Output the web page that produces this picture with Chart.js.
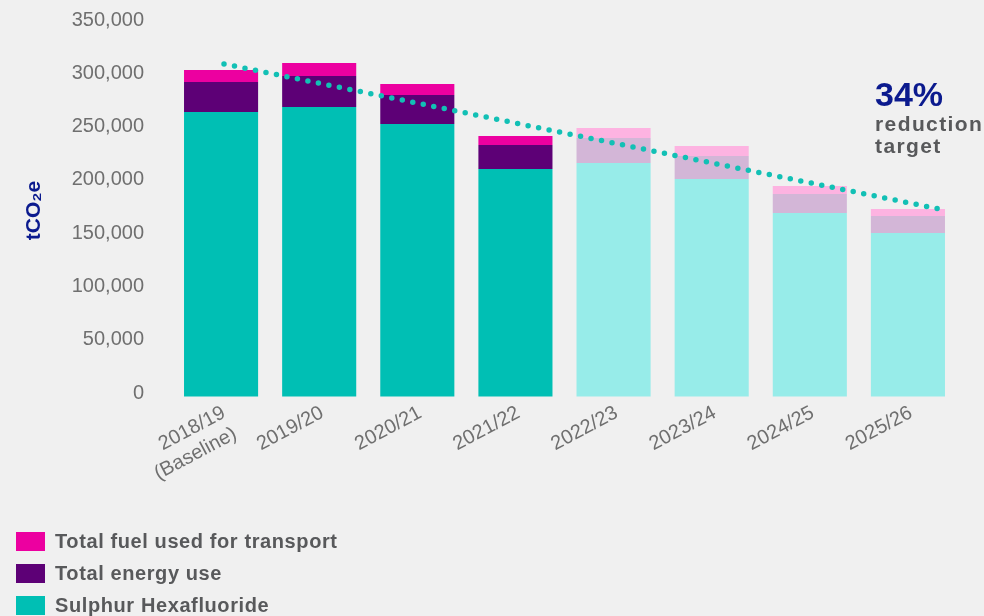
<!DOCTYPE html>
<html>
<head>
<meta charset="utf-8">
<script src="https://cdn.jsdelivr.net/npm/chart.js@4.4.1/dist/chart.umd.min.js"></script>
<style>
  html, body { margin: 0; padding: 0; background: #f0f0f0; }
  body { width: 984px; height: 616px; position: relative; overflow: hidden; }
  #wrap { position: absolute; left: 0; top: 0; width: 984px; height: 616px; }
  #legend { position: absolute; left: 16px; top: 532px; font-family: "Liberation Sans", Arial, sans-serif; }
  .item { display: flex; align-items: center; height: 19px; margin-bottom: 13px; }
  .box { width: 29px; height: 19px; margin-right: 10px; }
  .lbl { font-weight: bold; font-size: 20px; color: #58595b; letter-spacing: 0.6px; line-height: 19px; }
</style>
</head>
<body>
<div id="wrap"><canvas id="c" width="984" height="616"></canvas></div>
<div id="legend"></div>
<script>
// ---- data ----
const categories = [['2018/19', '(Baseline)'], '2019/20', '2020/21', '2021/22', '2022/23', '2023/24', '2024/25', '2025/26'];
const sulphurHexafluoride = [267400, 272100, 256200, 213900, 219600, 204600, 172700, 153900];
const totalEnergyUse = [28200, 29100, 27200, 22600, 23400, 21500, 17800, 15900];
const totalFuelTransport = [11200, 12200, 10300, 8400, 9400, 9400, 7500, 6600];
const isProjection = [false, false, false, false, true, true, true, true];
const targetLineX = [0.03, 7.32];
const targetLineY = [312500, 176400];
const yTicks = [0, 50000, 100000, 150000, 200000, 250000, 300000, 350000];

const FONT = '"Liberation Sans", Arial, sans-serif';
const colors = {
  sf6: ['#00bfb4', '#97ece9'],
  energy: ['#5d0076', '#d3b6d7'],
  fuel: ['#ec00a0', '#fdb3e1']
};
const pick = (pair) => isProjection.map(p => p ? pair[1] : pair[0]);

const annotation = {
  id: 'annotation',
  afterDraw(chart) {
    const ctx = chart.ctx;
    ctx.save();
    ctx.textAlign = 'left';
    ctx.textBaseline = 'alphabetic';
    ctx.fillStyle = '#0b1a8e';
    ctx.font = 'bold 34px ' + FONT;
    ctx.fillText('34%', 875, 106);
    ctx.fillStyle = '#58595b';
    ctx.font = 'bold 21px ' + FONT;
    try { ctx.letterSpacing = '1.4px'; } catch (e) {}
    ctx.fillText('reduction', 875, 131);
    ctx.fillText('target', 875, 153);
    ctx.restore();
  }
};

const chart = new Chart(document.getElementById('c'), {
  type: 'bar',
  data: {
    labels: categories,
    datasets: [
      { label: 'Sulphur Hexafluoride', data: sulphurHexafluoride, backgroundColor: pick(colors.sf6), legendColor: colors.sf6[0], order: 1 },
      { label: 'Total energy use', data: totalEnergyUse, backgroundColor: pick(colors.energy), legendColor: colors.energy[0], order: 1 },
      { label: 'Total fuel used for transport', data: totalFuelTransport, backgroundColor: pick(colors.fuel), legendColor: colors.fuel[0], order: 1 },
      {
        type: 'line', label: 'Reduction target', xAxisID: 'x2', yAxisID: 'y', order: 0,
        data: targetLineX.map((x, i) => ({ x: x, y: targetLineY[i] })),
        borderColor: '#12c0b5', borderWidth: 5.5, borderDash: [0, 10.7], borderCapStyle: 'round',
        pointRadius: 0, fill: false, tension: 0
      }
    ]
  },
  options: {
    responsive: false,
    animation: false,
    layout: { padding: { left: 0, right: 27, top: 24, bottom: 89 } },
    datasets: { bar: { barPercentage: 0.755, categoryPercentage: 1.0, grouped: false } },
    plugins: { legend: { display: false }, tooltip: { enabled: false } },
    scales: {
      x: {
        stacked: true,
        grid: { display: false, drawTicks: false },
        border: { display: false },
        ticks: {
          color: '#6f6f6f', font: { family: FONT, size: 20 },
          minRotation: 28, maxRotation: 28, padding: 4, labelOffset: 3, autoSkip: false
        },
        afterFit(s) { s.height = 130; }
      },
      x2: {
        type: 'linear', display: false, min: -0.5, max: 7.5,
        offset: false, beginAtZero: false, bounds: 'data', grace: 0
      },
      y: {
        stacked: true, min: 0, max: 350000,
        grid: { display: true, drawOnChartArea: false, drawTicks: true, tickLength: 20, color: 'rgba(0,0,0,0)' },
        border: { display: false },
        afterBuildTicks(s) { s.ticks = yTicks.map(v => ({ value: v })); },
        ticks: {
          color: '#6f6f6f', font: { family: FONT, size: 20 }, padding: 8, labelOffset: -4,
          callback: v => v.toLocaleString('en-GB')
        },
        title: {
          display: true, text: 'tCO₂e', color: '#0b1a8e',
          font: { family: FONT, size: 21, weight: 'bold' }, padding: { top: 22, bottom: 0 }
        },
        afterFit(s) { s.width = 172; }
      }
    }
  },
  plugins: [annotation]
});

// HTML legend built from the chart's datasets (top of stack first)
const legend = document.getElementById('legend');
chart.data.datasets.filter(d => d.type !== 'line').slice().reverse().forEach(d => {
  const row = document.createElement('div');
  row.className = 'item';
  const b = document.createElement('div');
  b.className = 'box';
  b.style.background = d.legendColor;
  const t = document.createElement('span');
  t.className = 'lbl';
  t.textContent = d.label;
  row.appendChild(b); row.appendChild(t);
  legend.appendChild(row);
});
</script>
</body>
</html>
